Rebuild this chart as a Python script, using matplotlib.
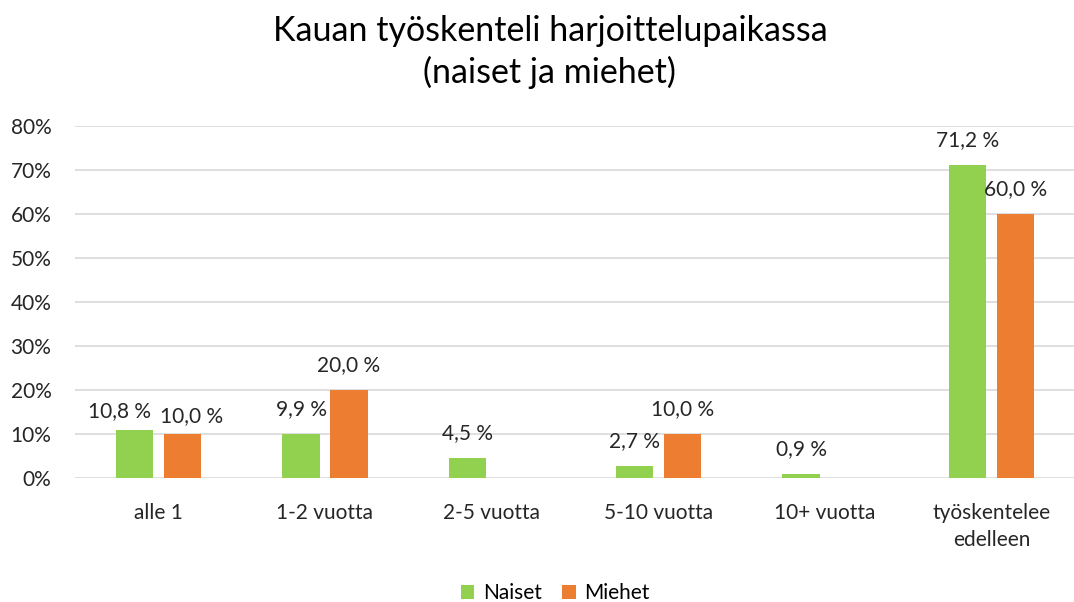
import matplotlib
matplotlib.use('Agg')
import matplotlib.pyplot as plt
import numpy as np

plt.rcParams['font.family'] = ['Lato', 'DejaVu Sans']

categories = ['alle 1', '1-2 vuotta', '2-5 vuotta', '5-10 vuotta', '10+ vuotta', 'työskentelee\nedelleen']
naiset = [10.8, 9.9, 4.5, 2.7, 0.9, 71.2]
miehet = [10.0, 20.0, None, 10.0, None, 60.0]
yticks = [0, 10, 20, 30, 40, 50, 60, 70, 80]

green = '#92D050'
orange = '#ED7D31'
text_col = '#262626'

x = np.arange(len(categories))
bar_width = 0.223
offset = 0.144

fig = plt.figure(figsize=(10.74, 6.02), dpi=100)
ax = fig.add_axes([75 / 1074, 124 / 602, 1000 / 1074, 352 / 602])

m_vals = [v if v is not None else 0 for v in miehet]
ax.bar(x - offset, naiset, width=bar_width, color=green, label='Naiset', zorder=3)
ax.bar(x + offset, m_vals, width=bar_width, color=orange, label='Miehet', zorder=3)

def fmt(v):
    return ('%.1f %%' % v).replace('.', ',')

# labels of the first group are nudged apart so they don't collide
for i, (xi, v) in enumerate(zip(x, naiset)):
    dx, dy = (-11, 14) if i == 0 else (0, 18)
    ax.annotate(fmt(v), (xi - offset, v), xytext=(dx, dy), textcoords='offset points',
                ha='center', va='center', fontsize=15, color=text_col)
for i, (xi, v) in enumerate(zip(x, miehet)):
    if v is None:
        continue
    dx, dy = (7, 13) if i == 0 else (0, 18)
    ax.annotate(fmt(v), (xi + offset, v), xytext=(dx, dy), textcoords='offset points',
                ha='center', va='center', fontsize=15, color=text_col)

ax.set_xlim(-0.5, len(categories) - 0.5)
ax.set_ylim(0, 80)
ax.set_yticks(yticks)
ax.set_yticklabels(['%d%%' % t for t in yticks])
ax.set_xticks(x)
ax.set_xticklabels(categories, linespacing=1.45)
ax.tick_params(axis='both', length=0, labelsize=15, colors=text_col)
ax.tick_params(axis='y', pad=17)
ax.tick_params(axis='x', pad=18)
ax.grid(axis='y', color='#D9D9D9', linewidth=1.2, zorder=0)
for s in ax.spines.values():
    s.set_visible(False)

fig.text(0.512, 0.975, 'Kauan työskenteli harjoittelupaikassa\n(naiset ja miehet)',
         ha='center', va='top', fontsize=24.5, color='#000000', linespacing=1.33)

fig.legend(loc='lower center', bbox_to_anchor=(0.517, -0.033), ncol=2, frameon=False,
           fontsize=15, handlelength=0.65, handleheight=0.65, columnspacing=1.0, handletextpad=0.4)

fig.savefig('out.png', dpi=100)
